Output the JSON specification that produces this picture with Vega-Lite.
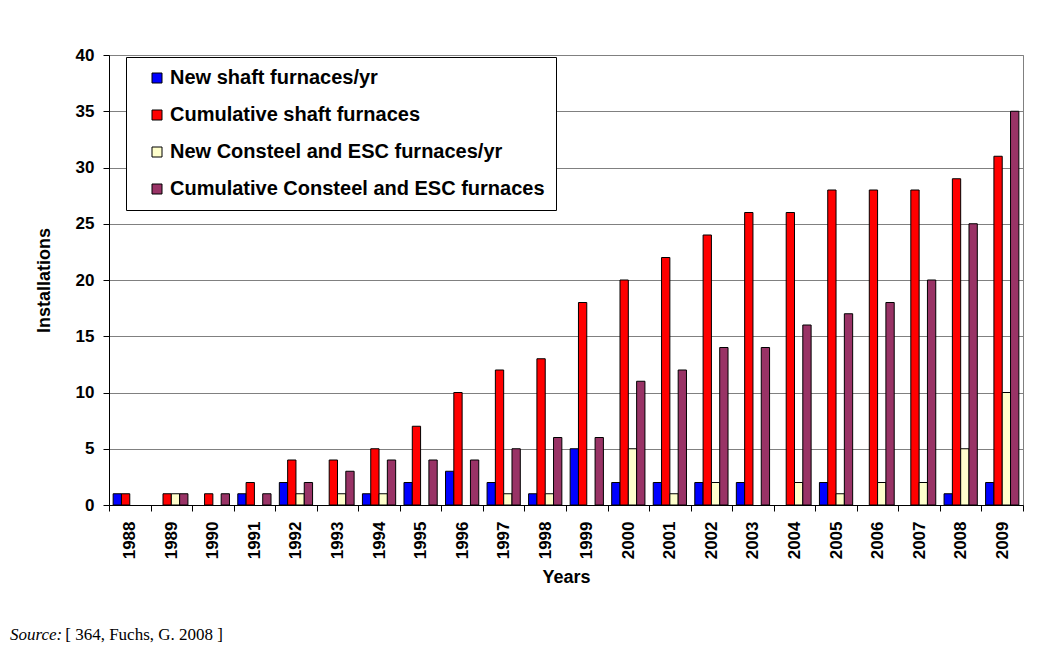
{
  "$schema": "https://vega.github.io/schema/vega-lite/v6.json",
  "width": 914,
  "height": 450,
  "autosize": {"type": "none"},
  "padding": {"left": 109, "top": 55, "right": 27, "bottom": 147},
  "background": "white",
  "title": {
    "text": "Source:",
    "subtitle": "\u200b\u00a0\u00a0\u00a0\u00a0\u00a0\u00a0\u00a0\u00a0\u00a0\u00a0\u00a0\u00a0\u00a0[ 364, Fuchs, G. 2008 ]",
    "orient": "bottom",
    "anchor": "start",
    "frame": "group",
    "dx": -99,
    "offset": 40,
    "font": "Liberation Serif",
    "fontStyle": "italic",
    "fontWeight": "normal",
    "fontSize": 17,
    "color": "black",
    "subtitleFont": "Liberation Serif",
    "subtitleFontStyle": "normal",
    "subtitleFontWeight": "normal",
    "subtitleFontSize": 17,
    "subtitleColor": "black",
    "subtitlePadding": -17
  },
  "config": {
    "view": {"stroke": "#808080", "strokeWidth": 1},
    "axis": {
      "labelFont": "Liberation Sans",
      "labelFontWeight": "bold",
      "labelFontSize": 17,
      "labelColor": "black",
      "titleFont": "Liberation Sans",
      "titleFontWeight": "bold",
      "titleFontSize": 18,
      "titleColor": "black",
      "domainColor": "black",
      "domainWidth": 1,
      "tickColor": "black",
      "tickWidth": 1
    }
  },
  "data": {
    "values": [
      {"year": "1988", "series": "New shaft furnaces/yr", "value": 1},
      {"year": "1988", "series": "Cumulative shaft furnaces", "value": 1},
      {"year": "1988", "series": "New Consteel and ESC furnaces/yr", "value": 0},
      {"year": "1988", "series": "Cumulative Consteel and ESC furnaces", "value": 0},
      {"year": "1989", "series": "New shaft furnaces/yr", "value": 0},
      {"year": "1989", "series": "Cumulative shaft furnaces", "value": 1},
      {"year": "1989", "series": "New Consteel and ESC furnaces/yr", "value": 1},
      {"year": "1989", "series": "Cumulative Consteel and ESC furnaces", "value": 1},
      {"year": "1990", "series": "New shaft furnaces/yr", "value": 0},
      {"year": "1990", "series": "Cumulative shaft furnaces", "value": 1},
      {"year": "1990", "series": "New Consteel and ESC furnaces/yr", "value": 0},
      {"year": "1990", "series": "Cumulative Consteel and ESC furnaces", "value": 1},
      {"year": "1991", "series": "New shaft furnaces/yr", "value": 1},
      {"year": "1991", "series": "Cumulative shaft furnaces", "value": 2},
      {"year": "1991", "series": "New Consteel and ESC furnaces/yr", "value": 0},
      {"year": "1991", "series": "Cumulative Consteel and ESC furnaces", "value": 1},
      {"year": "1992", "series": "New shaft furnaces/yr", "value": 2},
      {"year": "1992", "series": "Cumulative shaft furnaces", "value": 4},
      {"year": "1992", "series": "New Consteel and ESC furnaces/yr", "value": 1},
      {"year": "1992", "series": "Cumulative Consteel and ESC furnaces", "value": 2},
      {"year": "1993", "series": "New shaft furnaces/yr", "value": 0},
      {"year": "1993", "series": "Cumulative shaft furnaces", "value": 4},
      {"year": "1993", "series": "New Consteel and ESC furnaces/yr", "value": 1},
      {"year": "1993", "series": "Cumulative Consteel and ESC furnaces", "value": 3},
      {"year": "1994", "series": "New shaft furnaces/yr", "value": 1},
      {"year": "1994", "series": "Cumulative shaft furnaces", "value": 5},
      {"year": "1994", "series": "New Consteel and ESC furnaces/yr", "value": 1},
      {"year": "1994", "series": "Cumulative Consteel and ESC furnaces", "value": 4},
      {"year": "1995", "series": "New shaft furnaces/yr", "value": 2},
      {"year": "1995", "series": "Cumulative shaft furnaces", "value": 7},
      {"year": "1995", "series": "New Consteel and ESC furnaces/yr", "value": 0},
      {"year": "1995", "series": "Cumulative Consteel and ESC furnaces", "value": 4},
      {"year": "1996", "series": "New shaft furnaces/yr", "value": 3},
      {"year": "1996", "series": "Cumulative shaft furnaces", "value": 10},
      {"year": "1996", "series": "New Consteel and ESC furnaces/yr", "value": 0},
      {"year": "1996", "series": "Cumulative Consteel and ESC furnaces", "value": 4},
      {"year": "1997", "series": "New shaft furnaces/yr", "value": 2},
      {"year": "1997", "series": "Cumulative shaft furnaces", "value": 12},
      {"year": "1997", "series": "New Consteel and ESC furnaces/yr", "value": 1},
      {"year": "1997", "series": "Cumulative Consteel and ESC furnaces", "value": 5},
      {"year": "1998", "series": "New shaft furnaces/yr", "value": 1},
      {"year": "1998", "series": "Cumulative shaft furnaces", "value": 13},
      {"year": "1998", "series": "New Consteel and ESC furnaces/yr", "value": 1},
      {"year": "1998", "series": "Cumulative Consteel and ESC furnaces", "value": 6},
      {"year": "1999", "series": "New shaft furnaces/yr", "value": 5},
      {"year": "1999", "series": "Cumulative shaft furnaces", "value": 18},
      {"year": "1999", "series": "New Consteel and ESC furnaces/yr", "value": 0},
      {"year": "1999", "series": "Cumulative Consteel and ESC furnaces", "value": 6},
      {"year": "2000", "series": "New shaft furnaces/yr", "value": 2},
      {"year": "2000", "series": "Cumulative shaft furnaces", "value": 20},
      {"year": "2000", "series": "New Consteel and ESC furnaces/yr", "value": 5},
      {"year": "2000", "series": "Cumulative Consteel and ESC furnaces", "value": 11},
      {"year": "2001", "series": "New shaft furnaces/yr", "value": 2},
      {"year": "2001", "series": "Cumulative shaft furnaces", "value": 22},
      {"year": "2001", "series": "New Consteel and ESC furnaces/yr", "value": 1},
      {"year": "2001", "series": "Cumulative Consteel and ESC furnaces", "value": 12},
      {"year": "2002", "series": "New shaft furnaces/yr", "value": 2},
      {"year": "2002", "series": "Cumulative shaft furnaces", "value": 24},
      {"year": "2002", "series": "New Consteel and ESC furnaces/yr", "value": 2},
      {"year": "2002", "series": "Cumulative Consteel and ESC furnaces", "value": 14},
      {"year": "2003", "series": "New shaft furnaces/yr", "value": 2},
      {"year": "2003", "series": "Cumulative shaft furnaces", "value": 26},
      {"year": "2003", "series": "New Consteel and ESC furnaces/yr", "value": 0},
      {"year": "2003", "series": "Cumulative Consteel and ESC furnaces", "value": 14},
      {"year": "2004", "series": "New shaft furnaces/yr", "value": 0},
      {"year": "2004", "series": "Cumulative shaft furnaces", "value": 26},
      {"year": "2004", "series": "New Consteel and ESC furnaces/yr", "value": 2},
      {"year": "2004", "series": "Cumulative Consteel and ESC furnaces", "value": 16},
      {"year": "2005", "series": "New shaft furnaces/yr", "value": 2},
      {"year": "2005", "series": "Cumulative shaft furnaces", "value": 28},
      {"year": "2005", "series": "New Consteel and ESC furnaces/yr", "value": 1},
      {"year": "2005", "series": "Cumulative Consteel and ESC furnaces", "value": 17},
      {"year": "2006", "series": "New shaft furnaces/yr", "value": 0},
      {"year": "2006", "series": "Cumulative shaft furnaces", "value": 28},
      {"year": "2006", "series": "New Consteel and ESC furnaces/yr", "value": 2},
      {"year": "2006", "series": "Cumulative Consteel and ESC furnaces", "value": 18},
      {"year": "2007", "series": "New shaft furnaces/yr", "value": 0},
      {"year": "2007", "series": "Cumulative shaft furnaces", "value": 28},
      {"year": "2007", "series": "New Consteel and ESC furnaces/yr", "value": 2},
      {"year": "2007", "series": "Cumulative Consteel and ESC furnaces", "value": 20},
      {"year": "2008", "series": "New shaft furnaces/yr", "value": 1},
      {"year": "2008", "series": "Cumulative shaft furnaces", "value": 29},
      {"year": "2008", "series": "New Consteel and ESC furnaces/yr", "value": 5},
      {"year": "2008", "series": "Cumulative Consteel and ESC furnaces", "value": 25},
      {"year": "2009", "series": "New shaft furnaces/yr", "value": 2},
      {"year": "2009", "series": "Cumulative shaft furnaces", "value": 31},
      {"year": "2009", "series": "New Consteel and ESC furnaces/yr", "value": 10},
      {"year": "2009", "series": "Cumulative Consteel and ESC furnaces", "value": 35}
    ]
  },
  "transform": [{"filter": "datum.value > 0"}],
  "mark": {"type": "bar", "stroke": "black", "strokeWidth": 1},
  "encoding": {
    "x": {
      "field": "year",
      "type": "nominal",
      "scale": {"domain": ["1988","1989","1990","1991","1992","1993","1994","1995","1996","1997","1998","1999","2000","2001","2002","2003","2004","2005","2006","2007","2008","2009"], "paddingInner": 0, "paddingOuter": 0},
      "axis": {
        "title": "Years",
        "labelAngle": -90,
        "tickBand": "extent",
        "tickSize": 6,
        "labelPadding": 10,
        "titlePadding": 10,
        "grid": false
      }
    },
    "xOffset": {
      "field": "series",
      "type": "nominal",
      "scale": {"domain": ["New shaft furnaces/yr", "Cumulative shaft furnaces", "New Consteel and ESC furnaces/yr", "Cumulative Consteel and ESC furnaces"], "paddingInner": 0, "paddingOuter": 0.5}
    },
    "y": {
      "field": "value",
      "type": "quantitative",
      "scale": {"domain": [0, 40], "nice": false},
      "axis": {
        "title": "Installations",
        "values": [0, 5, 10, 15, 20, 25, 30, 35, 40],
        "tickSize": 6,
        "labelPadding": 9,
        "titlePadding": 22,
        "grid": true,
        "gridColor": "#808080",
        "gridWidth": 1
      }
    },
    "color": {
      "field": "series",
      "type": "nominal",
      "scale": {
        "domain": ["New shaft furnaces/yr", "Cumulative shaft furnaces", "New Consteel and ESC furnaces/yr", "Cumulative Consteel and ESC furnaces"],
        "range": ["#0000FF", "#FF0000", "#FFFFCC", "#993366"]
      },
      "legend": {
        "title": null,
        "orient": "none",
        "legendX": 17,
        "legendY": 2,
        "fillColor": "white",
        "strokeColor": "black",
        "padding": 11,
        "symbolOffset": 10,
        "symbolType": "square",
        "symbolSize": 100,
        "symbolStrokeColor": "black",
        "symbolStrokeWidth": 1,
        "symbolOpacity": 1,
        "labelFont": "Liberation Sans",
        "labelFontWeight": "bold",
        "labelFontSize": 20,
        "labelColor": "black",
        "labelOffset": 3,
        "labelLimit": 500,
        "rowPadding": 17
      }
    }
  }
}
